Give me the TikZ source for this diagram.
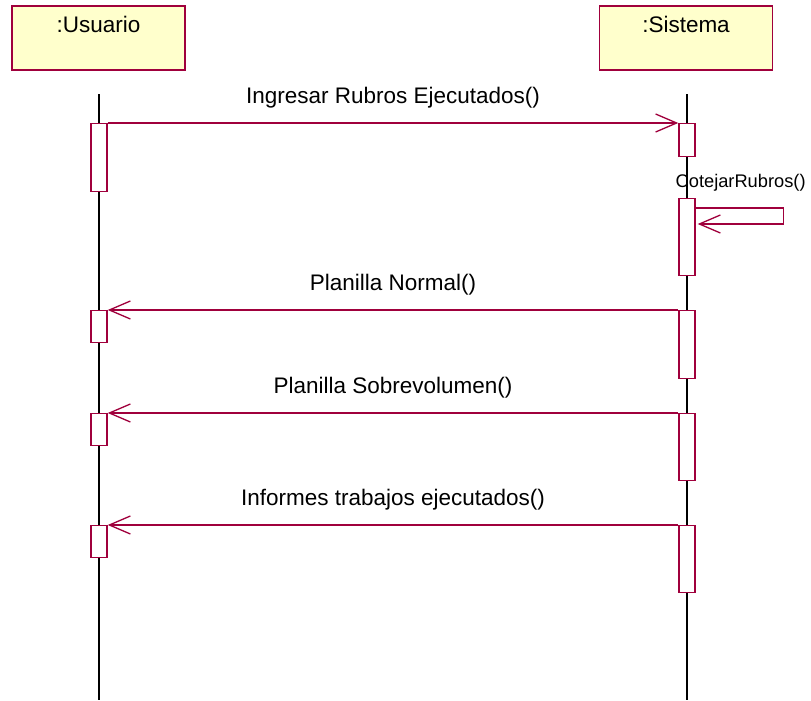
\documentclass[tikz,border=0pt]{standalone}
\usepackage{fontspec}
\setmainfont{Liberation Sans}
\usepackage{xcolor}
\usepackage{tikz}
\usetikzlibrary{arrows.meta, positioning}

\definecolor{umlborde}{RGB}{160,0,60}
\definecolor{umlfondo}{RGB}{255,255,204}

\begin{document}
\begin{tikzpicture}[x=0.02cm, y=-0.02cm]
\tikzstyle{objeto} = [rectangle, draw=umlborde, fill=umlfondo, line width=0.8pt, minimum width=3.46cm, minimum height=1.28cm, inner sep=0pt]
\tikzstyle{titulo} = [anchor=base, inner sep=0pt, font=\fontsize{12.8}{15}\selectfont]
\tikzstyle{activ} = [rectangle, draw=umlborde, fill=white, line width=0.8pt, anchor=north, minimum width=0.32cm, inner sep=0pt]
\tikzstyle{lifeline} = [draw, black, line width=0.6pt]
\tikzstyle{msg} = [draw=umlborde, line width=0.75pt, -{Straight Barb[length=0.42cm, width=0.36cm]}]
\tikzstyle{etiqueta} = [above, yshift=0.16cm, font=\fontsize{12.8}{15}\selectfont, text=black]

\useasboundingbox (0,0) rectangle (811,700);

% objetos
\node [objeto] (usuario) at (98.5,38) {};
\node [objeto] (sistema) at (686,38) {};
\node [titulo] (usuarioTxt) at ([yshift=-0.54cm]usuario.north) {:Usuario};
\node [titulo] (sistemaTxt) at ([yshift=-0.54cm]sistema.north) {:Sistema};

% lineas de vida
\coordinate (uTop) at (99,94);
\coordinate (uBot) at (99,700);
\coordinate (sTop) at (687,94);
\coordinate (sBot) at (687,700);
\draw [lifeline] (uTop) -- (uBot);
\draw [lifeline] (sTop) -- (sBot);

% activaciones
\node [activ, minimum height=1.36cm] (u1) at (99,123) {};
\node [activ, minimum height=0.66cm] (s1) at (687,123) {};
\node [activ, minimum height=1.54cm] (s2) at (687,198) {};
\node [activ, minimum height=1.36cm] (s3) at (687,310) {};
\node [activ, minimum height=0.64cm] (u2) at (99,310) {};
\node [activ, minimum height=1.34cm] (s4) at (687,413) {};
\node [activ, minimum height=0.64cm] (u3) at (99,413) {};
\node [activ, minimum height=1.34cm] (s5) at (687,525) {};
\node [activ, minimum height=0.64cm] (u4) at (99,525) {};

% mensajes
\draw [msg] (u1.north east) -- node [etiqueta] {Ingresar Rubros Ejecutados()} (s1.north west);
\node [anchor=base west, inner sep=0pt, font=\fontsize{10.4}{12}\selectfont] (cotejar) at ([xshift=-0.06cm, yshift=0.22cm]s2.north west) {CotejarRubros()};
\draw [msg] ([yshift=-0.2cm]s2.north east) -- ++(88,0) |- ([yshift=-0.52cm, xshift=0.04cm]s2.north east);
\draw [msg] (s3.north west) -- node [etiqueta] {Planilla Normal()} (u2.north east);
\draw [msg] (s4.north west) -- node [etiqueta] {Planilla Sobrevolumen()} (u3.north east);
\draw [msg] (s5.north west) -- node [etiqueta] {Informes trabajos ejecutados()} (u4.north east);
\end{tikzpicture}
\end{document}
